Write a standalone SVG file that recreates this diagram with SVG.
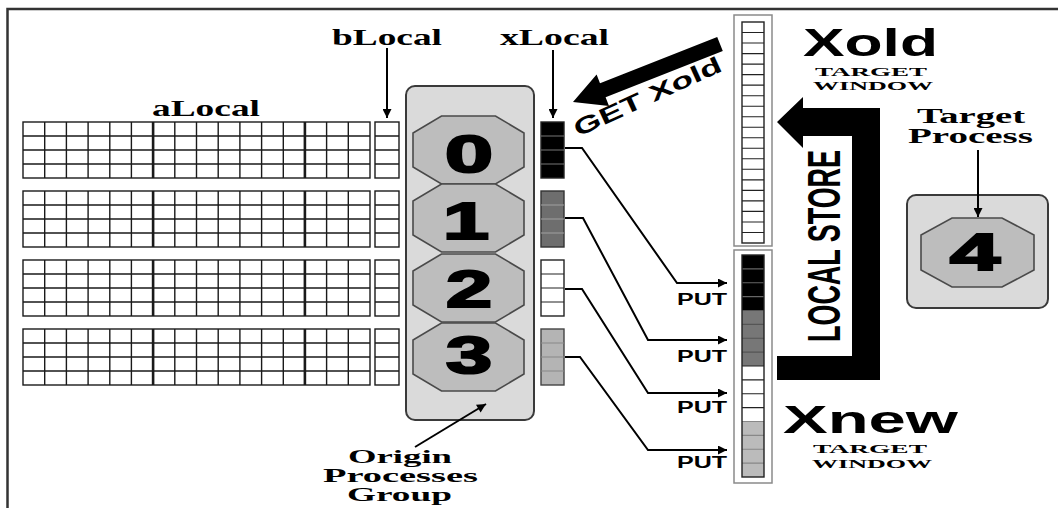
<svg xmlns="http://www.w3.org/2000/svg" xmlns:xlink="http://www.w3.org/1999/xlink" width="1058" height="508" viewBox="0 0 1058 508">
<defs>
<style>
.serif{font-family:"Liberation Serif","Times New Roman",serif;font-weight:bold;fill:#000}
.sans{font-family:"Liberation Sans",Arial,sans-serif;font-weight:bold;fill:#000}
.grid{fill:#fff;stroke:#1a1a1a;stroke-width:1.4}
.gl{fill:none;stroke:#1a1a1a;stroke-width:1.4}
.oct{fill:#bdbdbd;stroke:#4a4a4a;stroke-width:1.6}
.box{fill:#dadada;stroke:#3a3a3a;stroke-width:2}
.digit{font-family:"Liberation Sans",Arial,sans-serif;font-weight:bold;font-size:52px;fill:#000;stroke:#000;stroke-width:2.2;text-anchor:middle}
.conn{fill:none;stroke:#000;stroke-width:2}
.col{fill:#fff;stroke:#8a8a8a;stroke-width:1.5}
</style>
<marker id="ah" viewBox="0 0 10 10" refX="10" refY="5" markerWidth="11" markerHeight="9" markerUnits="userSpaceOnUse" orient="auto"><path d="M0,0L10,5L0,10z" fill="#000"/></marker>
<g id="gridA">
<rect x="0" y="0" width="347" height="56" class="grid"/>
<path class="gl" d="M21.7,0V56M43.4,0V56M65.1,0V56M86.8,0V56M108.4,0V56M151.8,0V56M173.5,0V56M195.2,0V56M216.9,0V56M238.6,0V56M260.3,0V56M303.6,0V56M325.3,0V56M0,14H347M0,28H347M0,42H347"/>
<path class="gl" style="stroke-width:2.6" d="M130.1,0V56M281.9,0V56"/>
</g>
<g id="gridB">
<rect x="0" y="0" width="24" height="56" class="grid"/>
<path class="gl" d="M0,14H24M0,28H24M0,42H24"/>
</g>
<polygon id="octShape" class="oct" points="-27,-34 27,-34 55.5,-17 55.5,17 27,34 -27,34 -55.5,17 -55.5,-17"/>
</defs>

<rect x="0" y="0" width="1058" height="508" fill="#fff"/>
<g id="frame" fill="none" stroke="#333" stroke-width="2.5">
<path d="M7.5,508V9H1058"/>
</g>

<g id="aLocal">
<text class="serif" x="152" y="116" font-size="23" textLength="108" lengthAdjust="spacingAndGlyphs">aLocal</text>
<use xlink:href="#gridA" x="23" y="122"/>
<use xlink:href="#gridA" x="23" y="191"/>
<use xlink:href="#gridA" x="23" y="260"/>
<use xlink:href="#gridA" x="23" y="329"/>
</g>

<g id="bLocal">
<text class="serif" x="332" y="45" font-size="23" textLength="110" lengthAdjust="spacingAndGlyphs">bLocal</text>
<use xlink:href="#gridB" x="375" y="122"/>
<use xlink:href="#gridB" x="375" y="191"/>
<use xlink:href="#gridB" x="375" y="260"/>
<use xlink:href="#gridB" x="375" y="329"/>
</g>

<g id="originGroup">
<rect class="box" x="406" y="86" width="128" height="334" rx="9"/>
</g>
<g id="proc0"><use xlink:href="#octShape" x="468.5" y="150"/><text class="digit" x="469" y="172" textLength="48" lengthAdjust="spacingAndGlyphs">0</text></g>
<g id="proc1"><use xlink:href="#octShape" x="468.5" y="218"/><text class="digit" x="466" y="239" textLength="46" lengthAdjust="spacingAndGlyphs">1</text></g>
<g id="proc2"><use xlink:href="#octShape" x="468.5" y="288"/><text class="digit" x="469" y="307" textLength="46" lengthAdjust="spacingAndGlyphs">2</text></g>
<g id="proc3"><use xlink:href="#octShape" x="468.5" y="357"/><text class="digit" x="469" y="373" textLength="46" lengthAdjust="spacingAndGlyphs">3</text></g>

<g id="originLabel">
<text class="serif" x="348" y="463" font-size="19" textLength="104" lengthAdjust="spacingAndGlyphs">Origin</text>
<text class="serif" x="323" y="482" font-size="19" textLength="155" lengthAdjust="spacingAndGlyphs">Processes</text>
<text class="serif" x="347" y="501" font-size="19" textLength="105" lengthAdjust="spacingAndGlyphs">Group</text>
</g>

<g id="xLocal">
<text class="serif" x="500" y="45" font-size="23" textLength="109" lengthAdjust="spacingAndGlyphs">xLocal</text>
<rect x="541" y="122" width="23" height="56" fill="#000" stroke="#222" stroke-width="1.4"/>
<path d="M541,136H564M541,150H564M541,164H564" stroke="#777" stroke-width="1.2"/>
<rect x="541" y="191" width="23" height="56" fill="#6e6e6e" stroke="#333" stroke-width="1.4"/>
<path d="M541,205H564M541,219H564M541,233H564" stroke="#a0a0a0" stroke-width="1.2"/>
<rect x="541" y="260" width="23" height="56" fill="#fff" stroke="#222" stroke-width="1.4"/>
<path d="M541,274H564M541,288H564M541,302H564" stroke="#222" stroke-width="1.2"/>
<rect x="541" y="329" width="23" height="56" fill="#b4b4b4" stroke="#444" stroke-width="1.4"/>
<path d="M541,343H564M541,357H564M541,371H564" stroke="#888" stroke-width="1.2"/>
</g>

<g id="xold">
<rect class="col" x="734" y="15" width="38" height="231"/>
<rect x="742" y="22" width="22" height="221" fill="#fff" stroke="#222" stroke-width="1.4"/>
<path stroke="#222" stroke-width="1.1" d="M742,32.5H764M742,43H764M742,53.6H764M742,64.1H764M742,74.6H764M742,85.1H764M742,95.7H764M742,106.2H764M742,116.7H764M742,127.2H764M742,137.8H764M742,148.3H764M742,158.8H764M742,169.3H764M742,179.9H764M742,190.4H764M742,200.9H764M742,211.4H764M742,222H764M742,232.5H764"/>
<text class="sans" x="803" y="56" font-size="38" textLength="135" lengthAdjust="spacingAndGlyphs">Xold</text>
<text class="serif" x="815" y="76" font-size="13" textLength="112" lengthAdjust="spacingAndGlyphs">TARGET</text>
<text class="serif" x="813" y="90" font-size="13" textLength="120" lengthAdjust="spacingAndGlyphs">WINDOW</text>
</g>

<g id="xnew">
<rect class="col" x="734" y="250" width="38" height="233"/>
<rect x="742" y="255" width="22" height="55.5" fill="#000"/>
<rect x="742" y="310.5" width="22" height="55.5" fill="#777"/>
<rect x="742" y="366" width="22" height="55.5" fill="#fff"/>
<rect x="742" y="421.5" width="22" height="55.5" fill="#bbb"/>
<path stroke="#666" stroke-width="1.1" d="M742,268.9H764M742,282.8H764M742,296.6H764"/>
<path stroke="#555" stroke-width="1.1" d="M742,310.5H764M742,324.4H764M742,338.3H764M742,352.1H764"/>
<path stroke="#222" stroke-width="1.1" d="M742,366H764M742,379.9H764M742,393.8H764M742,407.6H764"/>
<path stroke="#888" stroke-width="1.1" d="M742,421.5H764M742,435.4H764M742,449.3H764M742,463.1H764"/>
<rect x="742" y="255" width="22" height="222" fill="none" stroke="#222" stroke-width="1.4"/>
<text class="sans" x="783" y="433" font-size="39" textLength="175" lengthAdjust="spacingAndGlyphs">Xnew</text>
<text class="serif" x="813" y="453" font-size="13" textLength="114" lengthAdjust="spacingAndGlyphs">TARGET</text>
<text class="serif" x="812" y="468" font-size="13" textLength="120" lengthAdjust="spacingAndGlyphs">WINDOW</text>
</g>

<g id="targetProcess">
<text class="serif" x="917" y="123" font-size="20" textLength="108" lengthAdjust="spacingAndGlyphs">Target</text>
<text class="serif" x="908" y="143" font-size="20" textLength="125" lengthAdjust="spacingAndGlyphs">Process</text>
<rect class="box" x="907" y="195" width="141" height="113" rx="9"/>
<polygon class="oct" points="952,218 1002,218 1034,235 1034,270 1002,287 952,287 921,270 921,235"/>
<text class="digit" x="975" y="270" textLength="50" lengthAdjust="spacingAndGlyphs">4</text>
</g>

<g id="connectors">
<line class="conn" x1="387" y1="48" x2="387" y2="118" marker-end="url(#ah)"/>
<line class="conn" x1="553" y1="50" x2="553" y2="118" marker-end="url(#ah)"/>
<line class="conn" x1="978" y1="150" x2="978" y2="217" marker-end="url(#ah)"/>
<line class="conn" x1="415" y1="447" x2="486" y2="404" marker-end="url(#ah)"/>
<polyline class="conn" points="565,148 582,148 677,283 727,283" marker-end="url(#ah)"/>
<polyline class="conn" points="565,218 583,218 648,340 727,340" marker-end="url(#ah)"/>
<polyline class="conn" points="565,289 582,289 648,393 727,393" marker-end="url(#ah)"/>
<polyline class="conn" points="565,357 580,357 648,450 727,450" marker-end="url(#ah)"/>
<polygon id="getArrow" fill="#000" points="717.2,37 600,83.3 596.6,74.5 573,102 609,106.1 605.6,97.3 722.8,51"/>
<polygon id="localStoreArrow" fill="#000" points="777,122 803,97 803,108 880,108 880,380 777,380 777,356 852,356 852,136 803,136 803,148"/>
</g>

<g id="labels">
<text class="sans" transform="translate(578,137) rotate(-24.6)" font-size="23" textLength="160" lengthAdjust="spacingAndGlyphs">GET Xold</text>
<text class="sans" transform="translate(840,246) rotate(-90)" text-anchor="middle" font-size="47" textLength="192" lengthAdjust="spacingAndGlyphs">LOCAL STORE</text>
<text class="sans" x="677" y="305" font-size="16" textLength="50" lengthAdjust="spacingAndGlyphs">PUT</text>
<text class="sans" x="677" y="362" font-size="16" textLength="50" lengthAdjust="spacingAndGlyphs">PUT</text>
<text class="sans" x="677" y="413" font-size="16" textLength="50" lengthAdjust="spacingAndGlyphs">PUT</text>
<text class="sans" x="677" y="468" font-size="16" textLength="50" lengthAdjust="spacingAndGlyphs">PUT</text>
</g>
</svg>
